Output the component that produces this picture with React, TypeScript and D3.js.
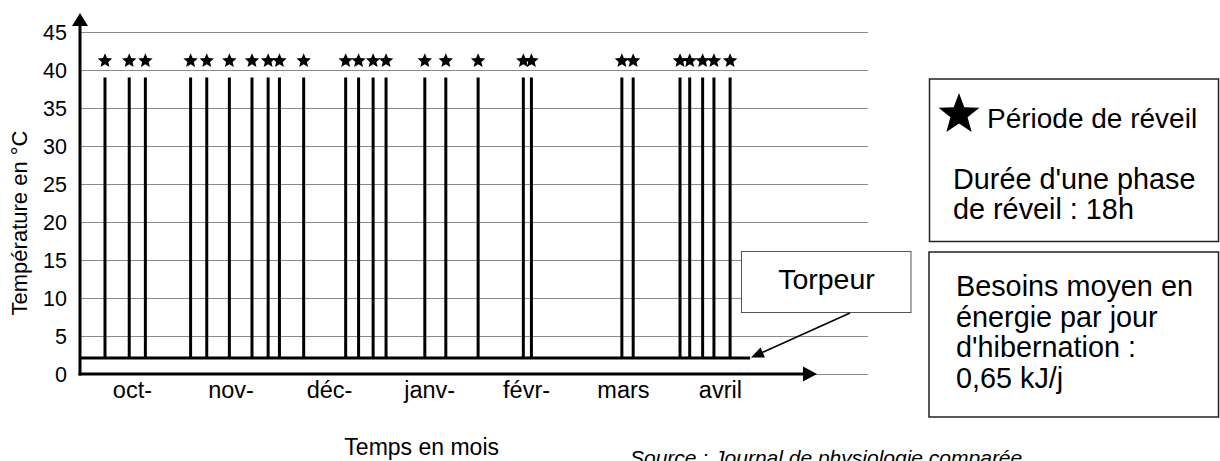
import React from "react";
import * as d3 from "d3";

// ---- data ----
const yTickValues = [0, 5, 10, 15, 20, 25, 30, 35, 40, 45];
const months = ["oct-", "nov-", "déc-", "janv-", "févr-", "mars", "avril"];
const monthDays = [15, 45.5, 76, 107, 137, 167, 197]; // days since 1 Oct
const wakeDays = [
  6.5, 14, 19, 33, 38, 45, 52, 57, 60.5, 68, 81, 85, 89.5, 93.5, 105.5, 112,
  122, 136, 138.5, 166.5, 170, 184.5, 187.5, 191.5, 195, 200,
];
const wakeTemp = 39;
const torporTemp = 2.1;
const starTemp = 41.2;
const torporStartDay = -1.2;
const torporEndDay = 206.2;

const legendLines1 = ["Durée d'une phase", "de réveil : 18h"];
const legendLines2 = ["Besoins moyen en", "énergie par jour", "d'hibernation :", "0,65 kJ/j"];

const FONT = "'Liberation Sans', Arial, Helvetica, sans-serif";

function starPath(cx: number, cy: number, R: number, ratio = 0.42) {
  const pts: [number, number][] = [];
  for (let i = 0; i < 10; i++) {
    const r = i % 2 === 0 ? R : R * ratio;
    const a = -Math.PI / 2 + (i * Math.PI) / 5;
    pts.push([cx + r * Math.cos(a), cy + r * Math.sin(a)]);
  }
  return "M" + pts.map((p) => p.join(",")).join("L") + "Z";
}

export default function App() {
  const W = 1220;
  const H = 461;
  const axisLeft = 80;
  const axisBottom = 374;
  const gridRight = 868;
  const xAxisEnd = 817;
  const yAxisTop = 13;

  const x = d3.scaleLinear().domain([0, 210]).range([84, 762.4]);
  const y = d3.scaleLinear().domain([0, 45]).range([axisBottom, 32]);

  const torporY = y(torporTemp);

  return (
    <svg
      width={W}
      height={H}
      style={{ position: "absolute", left: 0, top: 0, display: "block", background: "#fff" }}
      fontFamily={FONT}
    >
      <rect x={0} y={0} width={W} height={H} fill="#fff" />
      {/* gridlines */}
      {yTickValues.map((v) => (
        <line
          key={"g" + v}
          x1={axisLeft}
          x2={gridRight}
          y1={Math.round(y(v)) + 0.5}
          y2={Math.round(y(v)) + 0.5}
          stroke="#8a8a8a"
          strokeWidth={1}
        />
      ))}
      {/* y tick labels */}
      {yTickValues.map((v) => (
        <text
          key={"t" + v}
          x={67}
          y={y(v) + 7.5}
          textAnchor="end"
          fontSize={21.5}
          fill="#000"
        >
          {v}
        </text>
      ))}
      {/* torpor baseline */}
      <line
        x1={x(torporStartDay)}
        x2={x(torporEndDay)}
        y1={torporY}
        y2={torporY}
        stroke="#000"
        strokeWidth={3}
      />
      {/* wake lines */}
      {wakeDays.map((d, i) => (
        <line
          key={"w" + i}
          x1={x(d)}
          x2={x(d)}
          y1={y(wakeTemp)}
          y2={torporY}
          stroke="#000"
          strokeWidth={3}
        />
      ))}
      {/* stars */}
      {wakeDays.map((d, i) => (
        <path key={"s" + i} d={starPath(x(d), y(starTemp), 7.6, 0.45)} fill="#000" />
      ))}
      {/* axes */}
      <line x1={axisLeft} x2={axisLeft} y1={axisBottom + 1.5} y2={yAxisTop + 10} stroke="#000" strokeWidth={3} />
      <path d={`M${axisLeft},${yAxisTop} L${axisLeft - 8},${yAxisTop + 13} L${axisLeft + 8},${yAxisTop + 13} Z`} fill="#000" />
      <line x1={axisLeft - 1.5} x2={xAxisEnd - 10} y1={axisBottom} y2={axisBottom} stroke="#000" strokeWidth={3} />
      <path d={`M${xAxisEnd},${axisBottom} L${xAxisEnd - 14},${axisBottom - 7.5} L${xAxisEnd - 14},${axisBottom + 7.5} Z`} fill="#000" />
      {/* month labels */}
      {months.map((m, i) => (
        <text key={m} x={x(monthDays[i])} y={398} textAnchor="middle" fontSize={23.5} fill="#000">
          {m}
        </text>
      ))}
      {/* axis titles */}
      <text x={421.7} y={455} textAnchor="middle" fontSize={23} fill="#000">
        Temps en mois
      </text>
      <text
        transform={`translate(27,223) rotate(-90)`}
        textAnchor="middle"
        fontSize={22}
        fill="#000"
      >
        Température en °C
      </text>
      <text x={630} y={465} fontSize={21} fontStyle="italic" fill="#000">
        Source :  Journal de physiologie comparée
      </text>
      {/* Torpeur callout */}
      <rect x={741.5} y={251.5} width={169.5} height={61} fill="#fff" stroke="#555" strokeWidth={1} />
      <text x={826.5} y={288.5} textAnchor="middle" fontSize={28.5} fill="#000">
        Torpeur
      </text>
      <line x1={850} y1={313} x2={761} y2={353} stroke="#000" strokeWidth={1.6} />
      <path d="M751,357.5 L760.5,347.5 L765,357.5 Z" fill="#000" />
      {/* legend box 1 */}
      <rect x={929.5} y={79} width={289} height={162.5} fill="#fff" stroke="#222" strokeWidth={1.5} />
      <path d={starPath(959, 114.5, 21.5, 0.42)} fill="#000" />
      <text x={987} y={128} fontSize={28} fill="#000">
        Période de réveil
      </text>
      {legendLines1.map((t, i) => (
        <text key={t} x={953} y={188.5 + i * 30} fontSize={28.8} fill="#000">
          {t}
        </text>
      ))}
      {/* legend box 2 */}
      <rect x={929} y={252} width={289.5} height={165} fill="#fff" stroke="#222" strokeWidth={1.5} />
      {legendLines2.map((t, i) => (
        <text key={t} x={956} y={296 + i * 30.6} fontSize={28.8} fill="#000">
          {t}
        </text>
      ))}
    </svg>
  );
}
